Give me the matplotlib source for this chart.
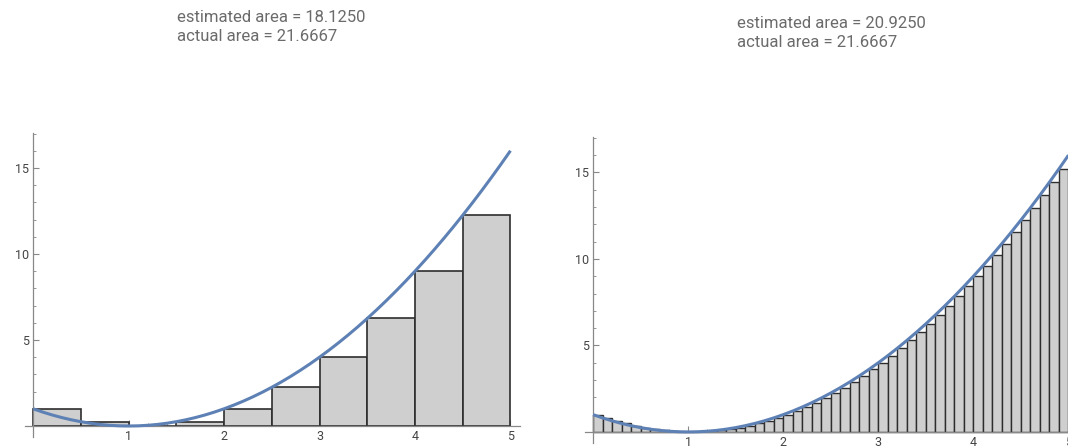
import matplotlib
matplotlib.use("Agg")
import matplotlib.pyplot as plt
from matplotlib.ticker import MultipleLocator, FixedLocator

# left panel: 10 left-endpoint rectangles, width 0.5
left_edges = [0.0, 0.5, 1.0, 1.5, 2.0, 2.5, 3.0, 3.5, 4.0, 4.5]
left_heights = [1.0, 0.25, 0.0, 0.25, 1.0, 2.25, 4.0, 6.25, 9.0, 12.25]

# right panel: 50 left-endpoint rectangles, width 0.1
right_edges = [0.0, 0.1, 0.2, 0.3, 0.4, 0.5, 0.6, 0.7, 0.8, 0.9,
               1.0, 1.1, 1.2, 1.3, 1.4, 1.5, 1.6, 1.7, 1.8, 1.9,
               2.0, 2.1, 2.2, 2.3, 2.4, 2.5, 2.6, 2.7, 2.8, 2.9,
               3.0, 3.1, 3.2, 3.3, 3.4, 3.5, 3.6, 3.7, 3.8, 3.9,
               4.0, 4.1, 4.2, 4.3, 4.4, 4.5, 4.6, 4.7, 4.8, 4.9]
right_heights = [1.00, 0.81, 0.64, 0.49, 0.36, 0.25, 0.16, 0.09, 0.04, 0.01,
                 0.00, 0.01, 0.04, 0.09, 0.16, 0.25, 0.36, 0.49, 0.64, 0.81,
                 1.00, 1.21, 1.44, 1.69, 1.96, 2.25, 2.56, 2.89, 3.24, 3.61,
                 4.00, 4.41, 4.84, 5.29, 5.76, 6.25, 6.76, 7.29, 7.84, 8.41,
                 9.00, 9.61, 10.24, 10.89, 11.56, 12.25, 12.96, 13.69, 14.44, 15.21]

# the curve, sampled every 0.1
curve_x = right_edges + [5.0]
curve_y = right_heights + [16.00]

titles = [("estimated area = 18.1250", "actual area = 21.6667"),
          ("estimated area = 20.9250", "actual area = 21.6667")]

W, H = 1068, 448
fig = plt.figure(figsize=(W / 100, H / 100), dpi=100)
plt.rcParams["font.family"] = ["Roboto", "DejaVu Sans"]

CURVE = "#5e81b5"
BAR = "#cfcfcf"
EDGE = "#2e2e2e"


def setup(ax, xlim, ylim):
    ax.set_xlim(*xlim)
    ax.set_ylim(*ylim)
    for s in ("top", "right"):
        ax.spines[s].set_visible(False)
    ax.spines["left"].set_position(("data", 0))
    ax.spines["bottom"].set_position(("data", 0))
    for s in ("left", "bottom"):
        ax.spines[s].set_color("#888888")
        ax.spines[s].set_linewidth(0.9)
    ax.xaxis.set_major_locator(FixedLocator([1, 2, 3, 4, 5]))
    ax.yaxis.set_major_locator(FixedLocator([5, 10, 15]))
    ax.xaxis.set_minor_locator(MultipleLocator(0.2))
    ax.yaxis.set_minor_locator(MultipleLocator(1))
    ax.tick_params(which="both", direction="in", color="#888888",
                   labelsize=9, labelcolor="#444444")
    ax.tick_params(which="major", length=4, width=0.8, pad=3)
    ax.tick_params(which="minor", length=2, width=0.6)
    ax.patch.set_alpha(0)


# left panel
ax1 = fig.add_axes([25 / W, 11 / H, 495 / W, 304 / H])
setup(ax1, (-0.085, 5.1), (-0.64, 17.03))
ax1.bar(left_edges, left_heights, width=0.5, align="edge", color=BAR,
        edgecolor=EDGE, linewidth=1.2, zorder=2)
ax1.plot(curve_x, curve_y, color=CURVE, lw=2.2, zorder=3,
         solid_capstyle="butt")

# right panel (runs past the right edge of the picture)
ax2 = fig.add_axes([585 / W, 5 / H, 493 / W, 306 / H])
setup(ax2, (-0.085, 5.1), (-0.64, 17.05))
ax2.bar(right_edges, right_heights, width=0.1, align="edge", color=BAR,
        edgecolor=EDGE, linewidth=1.0, zorder=2)
ax2.plot(curve_x, curve_y, color=CURVE, lw=2.2, zorder=3,
         solid_capstyle="butt")

# annotations above each panel
for (l1, l2), (px, py) in zip(titles, [(177, 10), (737, 16)]):
    fig.text(px / W, 1 - py / H, l1 + "\n" + l2, ha="left", va="top",
             fontsize=12, color="#6b6b6b", linespacing=1.3)

fig.savefig("out.png", dpi=100)
